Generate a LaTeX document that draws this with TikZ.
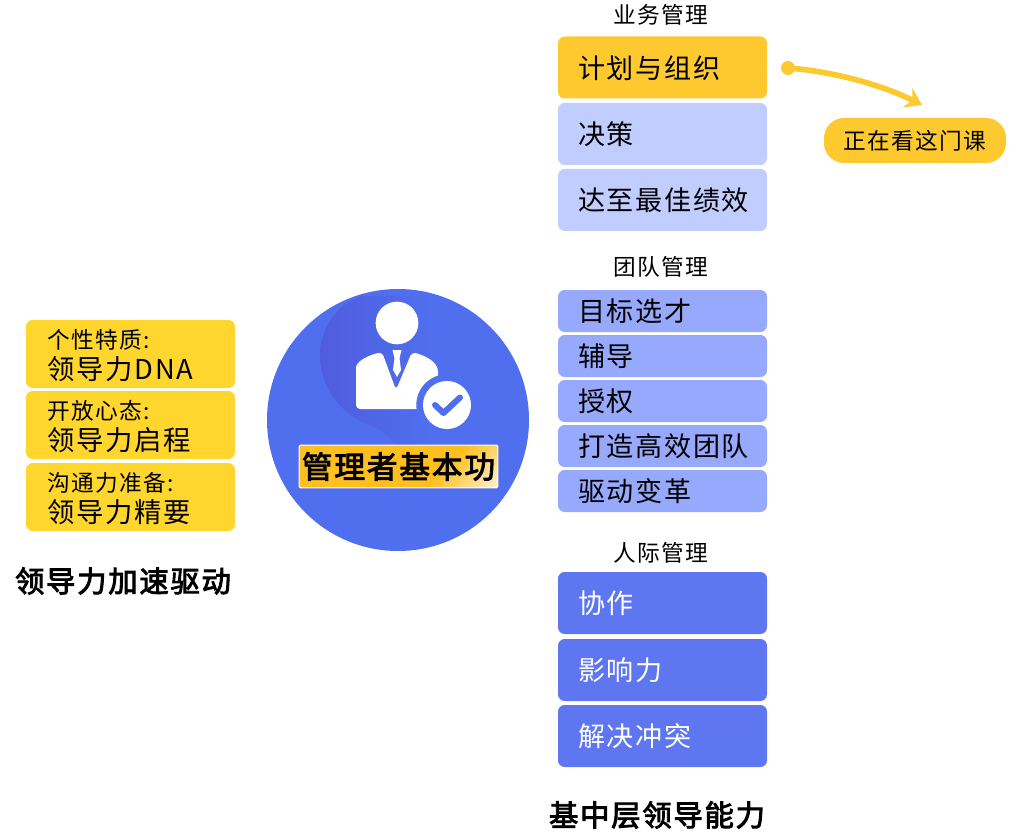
\documentclass[tikz,border=0pt]{standalone}
\usepackage{fontspec}
\setmainfont[LetterSpace=6]{Noto Sans CJK SC}
\newfontfamily\heavyfont[LetterSpace=6,FakeBold=3]{Noto Sans CJK SC}
\usetikzlibrary{arrows.meta}
\definecolor{goldfill}{HTML}{FDC92F}
\definecolor{sunfill}{HTML}{FFD62D}
\definecolor{palefill}{HTML}{C1CDFF}
\definecolor{midfill}{HTML}{96A9FD}
\definecolor{deepfill}{HTML}{5E77F1}
\definecolor{discfill}{HTML}{4F6FEE}
\definecolor{blobfill}{HTML}{505CDE}
\definecolor{stripfill}{HTML}{FFC01F}
\definecolor{stripfade}{HTML}{FFF4D8}
\pgfdeclareverticalshading{stripshade}{100bp}{color(0bp)=(stripfade); color(14bp)=(stripfade); color(36bp)=(stripfill); color(100bp)=(stripfill)}
\newcommand{\rowfont}{\fontsize{20.3pt}{24pt}\selectfont}
\newcommand{\bigfont}{\fontsize{20.5pt}{25pt}\selectfont}
\newcommand{\headfont}{\fontsize{17pt}{20pt}\selectfont}
\newcommand{\capfont}{\fontsize{22pt}{26pt}\selectfont\heavyfont}
\tikzset{
  rowbox/.style={rounded corners=5pt,inner xsep=15.2pt,inner ysep=0pt,text width=126.35pt,align=left,font=\rowfont},
  tallrow/.style={rowbox,minimum height=46.5pt,text height=16pt,text depth=0pt},
  thinrow/.style={rowbox,minimum height=31.5pt,text height=16pt,text depth=0pt},
  leadbox/.style={rowbox,inner xsep=16.25pt,text width=124.25pt,fill=sunfill,minimum height=51pt,font=\bigfont},
  headtext/.style={font=\headfont},
  captext/.style={font=\capfont}
}
\begin{document}
\begin{tikzpicture}[x=0.75pt,y=-0.75pt]
\useasboundingbox (0,0) rectangle (1024,834);

\node [headtext] (bizhead) at (661,15) {业务管理};
\node [tallrow,fill=goldfill] (plan) at (662.5,67.5) {计划与组织};
\node [tallrow,fill=palefill] (decide) at (662.5,134) {决策};
\node [tallrow,fill=palefill] (perform) at (662.5,200) {达至最佳绩效};

\node [circle,fill=goldfill,inner sep=0pt,minimum size=10.5pt] (dot) at (788,68) {};
\coordinate (tip) at (922,105);
\draw [goldfill,line width=4.2pt,-{Stealth[length=12pt,width=16pt]}] (dot.center) .. controls (830,71) and (880,84) .. (tip);
\node [rounded corners=15pt,fill=goldfill,minimum width=136.5pt,minimum height=33.75pt,inner sep=0pt,headtext] (watching) at (915,140.5) {正在看这门课};

\node [headtext] (teamhead) at (661,267) {团队管理};
\node [thinrow,fill=midfill] (select) at (662.5,311) {目标选才};
\node [thinrow,fill=midfill] (coach) at (662.5,356) {辅导};
\node [thinrow,fill=midfill] (delegate) at (662.5,401) {授权};
\node [thinrow,fill=midfill] (team) at (662.5,446) {打造高效团队};
\node [thinrow,fill=midfill] (change) at (662.5,491) {驱动变革};

\node [headtext] (peoplehead) at (661,553) {人际管理};
\node [tallrow,fill=deepfill,text=white] (collab) at (662.5,603) {协作};
\node [tallrow,fill=deepfill,text=white] (influence) at (662.5,670) {影响力};
\node [tallrow,fill=deepfill,text=white] (conflict) at (662.5,736) {解决冲突};
\node [captext] (midcap) at (657,815) {基中层领导能力};

\node [leadbox] (dna) at (130.5,354) {\rule{0pt}{17pt}{\headfont 个性特质:}\\[-1.5pt]领导力DNA};
\node [leadbox] (open) at (130.5,425) {\rule{0pt}{17pt}{\headfont 开放心态:}\\[-1.5pt]领导力启程};
\node [leadbox] (talk) at (130.5,497) {\rule{0pt}{17pt}{\headfont 沟通力准备:}\\[-1.5pt]领导力精要};
\node [captext] (leadcap) at (123,581) {领导力加速驱动};

\node [circle,fill=discfill,inner sep=0pt,minimum size=196.5pt] (disc) at (398,420) {};
\begin{scope}
\clip (398,420) circle [radius=131];
\shade [left color=blobfill,right color=discfill] (362,296) .. controls (335,305) and (320,330) .. (320,355) .. controls (320,395) and (350,420) .. (375,427) .. controls (385,432) and (392,440) .. (397,445) -- (430,445) -- (430,296) -- cycle;
\end{scope}
\node [circle,fill=white,inner sep=0pt,minimum size=32pt] (head) at (397,323) {};
\fill [white,rounded corners=3pt] (356,409) -- (356,372) .. controls (356,362) and (366,356) .. (382,352) -- (396,390) -- (412,352) .. controls (426,356) and (438,362) .. (438,376) -- (438,409) -- cycle;
\fill [white] (392.5,350) -- (401.5,350) -- (399.5,358) -- (401,370) -- (397,377) -- (393,370) -- (394.5,358) -- cycle;
\node [circle,fill=discfill,inner sep=0pt,minimum size=46pt] (ring) at (447,405) {};
\node [circle,fill=white,inner sep=0pt,minimum size=36pt] (badge) at (447,405) {};
\draw [discfill,line width=4.5pt,line cap=round,line join=round] (435,405) -- (443.5,413) -- (460,397.5);
\node [draw=white,line width=0.8pt,rounded corners=1pt,shading=stripshade,shading angle=45,minimum width=149pt,minimum height=32pt,inner sep=0pt,font=\fontsize{23pt}{27pt}\selectfont\heavyfont] (title) at (398.5,466.5) {管理者基本功};
\end{tikzpicture}
\end{document}
